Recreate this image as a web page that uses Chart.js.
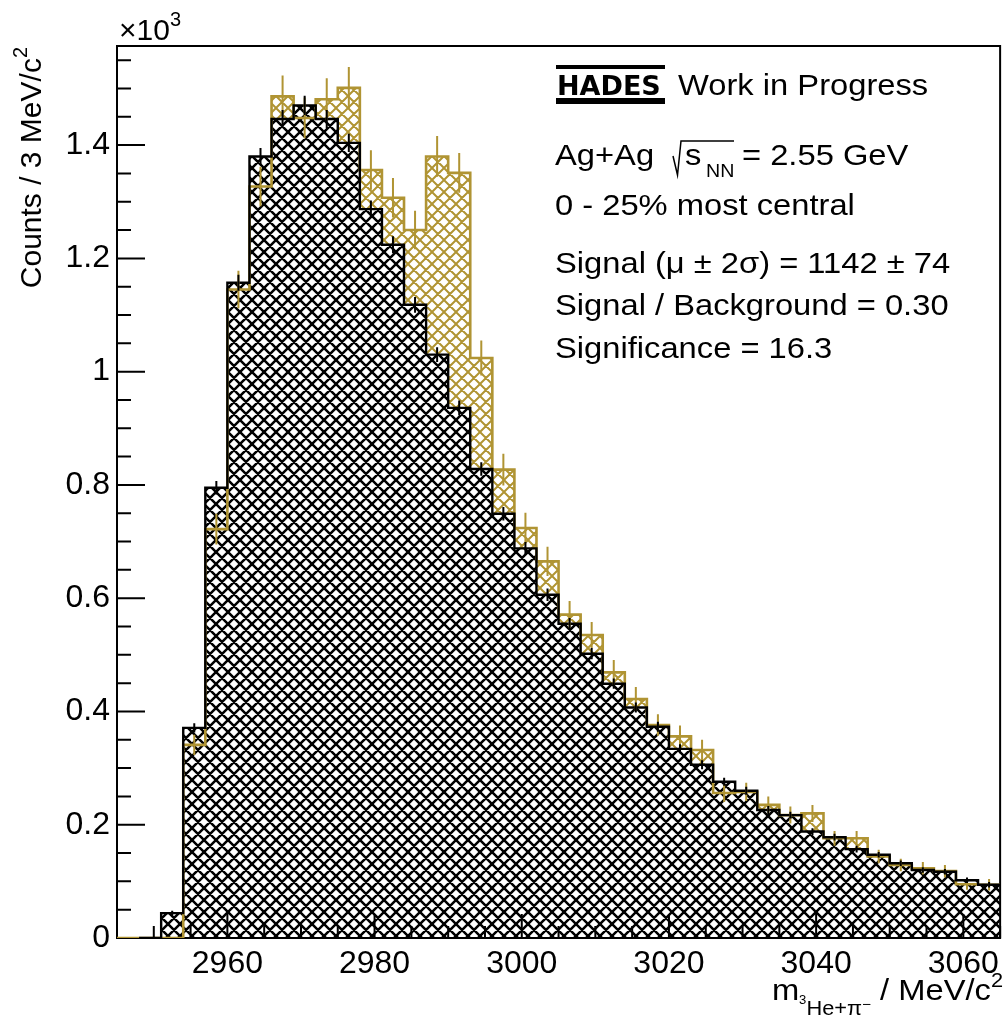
<!DOCTYPE html>
<html>
<head>
<meta charset="utf-8">
<script src="https://cdn.jsdelivr.net/npm/chart.js@4.4.1/dist/chart.umd.min.js"></script>
<style>
  html, body { margin: 0; padding: 0; background: #fff; }
</style>
</head>
<body>
<canvas id="grafico" width="1006" height="1018"></canvas>
<script>
// bordes de los bins en MeV/c^2 (3 MeV cada uno)
const binEdges = [2945, 2948, 2951, 2954, 2957, 2960, 2963, 2966, 2969, 2972,
  2975, 2978, 2981, 2984, 2987, 2990, 2993, 2996, 2999, 3002,
  3005, 3008, 3011, 3014, 3017, 3020, 3023, 3026, 3029, 3032,
  3035, 3038, 3041, 3044, 3047, 3050, 3053, 3056, 3059, 3062, 3065];

// mismo evento (senal + fondo), en unidades de 10^3
const sameEvent = [0, 0, 0, 0.341, 0.722, 1.145, 1.327, 1.486, 1.448, 1.481,
  1.501, 1.356, 1.307, 1.250, 1.380, 1.351, 1.024, 0.827, 0.724, 0.665,
  0.571, 0.535, 0.469, 0.422, 0.376, 0.356, 0.332, 0.256, 0.258, 0.235,
  0.217, 0.220, 0.176, 0.176, 0.144, 0.129, 0.123, 0.118, 0.095, 0.094];
const sameEventErr = [0, 0, 0, 0.018, 0.027, 0.033, 0.035, 0.037, 0.036, 0.037,
  0.037, 0.035, 0.035, 0.034, 0.036, 0.035, 0.031, 0.028, 0.027, 0.026,
  0.024, 0.023, 0.022, 0.021, 0.019, 0.019, 0.018, 0.016, 0.016, 0.015,
  0.015, 0.015, 0.013, 0.013, 0.012, 0.011, 0.011, 0.011, 0.010, 0.010];

// fondo (evento mezclado), en unidades de 10^3
const mixedEvent = [null, 0, 0.044, 0.371, 0.795, 1.157, 1.380, 1.446, 1.470, 1.446,
  1.404, 1.287, 1.224, 1.118, 1.030, 0.936, 0.828, 0.749, 0.688, 0.606,
  0.555, 0.502, 0.449, 0.407, 0.373, 0.334, 0.306, 0.276, 0.260, 0.226,
  0.217, 0.188, 0.178, 0.157, 0.147, 0.132, 0.120, 0.117, 0.102, 0.094];
const mixedEventErr = [0, 0, 0.004, 0.008, 0.012, 0.014, 0.015, 0.016, 0.017, 0.016,
  0.016, 0.015, 0.015, 0.014, 0.013, 0.013, 0.012, 0.012, 0.011, 0.011,
  0.010, 0.010, 0.009, 0.009, 0.009, 0.008, 0.008, 0.007, 0.007, 0.007,
  0.006, 0.006, 0.006, 0.006, 0.005, 0.005, 0.005, 0.005, 0.005, 0.005];

const xTicks = [2960, 2980, 3000, 3020, 3040, 3060];
const yTicks = [0, 0.2, 0.4, 0.6, 0.8, 1, 1.2, 1.4];

const GOLD = "#b09433";
const FONT = '"Liberation Sans", Arial, sans-serif';
const SX = 1.09;

const canvas = document.getElementById("grafico");
const ctx0 = canvas.getContext("2d");

// patron de rayado cruzado
function hatch(color, lw, bg) {
  const s = 12;
  const c = document.createElement("canvas");
  c.width = s; c.height = s;
  const g = c.getContext("2d");
  if (bg) { g.fillStyle = bg; g.fillRect(0, 0, s, s); }
  g.strokeStyle = color;
  g.lineWidth = lw;
  g.beginPath();
  for (const o of [-s, 0, s]) {
    g.moveTo(o, 0); g.lineTo(o + s, s);
    g.moveTo(o, s); g.lineTo(o + s, 0);
  }
  g.stroke();
  return ctx0.createPattern(c, "repeat");
}

// puntos del histograma (borde izquierdo + ultimo borde derecho)
function histPoints(vals) {
  const p = [];
  vals.forEach((v, i) => { if (v !== null) p.push({ x: binEdges[i], y: v }); });
  p.push({ x: binEdges[binEdges.length - 1], y: vals[vals.length - 1] });
  return p;
}

function runsWidth(ctx, runs) {
  let w = 0;
  for (const r of runs) { ctx.font = r[1] + "px " + FONT; w += ctx.measureText(r[0]).width; }
  return w;
}

function texto(ctx, x, y, runs, opts = {}) {
  ctx.save();
  ctx.translate(x, y);
  if (opts.rot) ctx.rotate(opts.rot);
  ctx.scale(opts.sx || SX, 1);
  ctx.fillStyle = "#000";
  ctx.textAlign = "left";
  ctx.textBaseline = "alphabetic";
  let cx = opts.right ? -runsWidth(ctx, runs) : 0;
  for (const r of runs) {
    ctx.font = r[1] + "px " + FONT;
    ctx.fillText(r[0], cx, r[2] || 0);
    cx += ctx.measureText(r[0]).width;
  }
  ctx.restore();
}

const errorBars = {
  id: "errorBars",
  afterDatasetsDraw(chart) {
    const { ctx, scales: { x, y } } = chart;
    const draw = (vals, errs, color) => {
      ctx.save();
      ctx.strokeStyle = color;
      ctx.lineWidth = 2;
      ctx.beginPath();
      vals.forEach((v, i) => {
        if (v === null || !errs[i]) return;
        const px = x.getPixelForValue((binEdges[i] + binEdges[i + 1]) / 2);
        ctx.moveTo(px, y.getPixelForValue(v - errs[i]));
        ctx.lineTo(px, y.getPixelForValue(v + errs[i]));
      });
      ctx.stroke();
      ctx.restore();
    };
    draw(sameEvent, sameEventErr, GOLD);
    draw(mixedEvent, mixedEventErr, "#000");
  }
};

const marco = {
  id: "marco",
  // el marco va debajo de las lineas pero encima del rayado
  beforeDatasetDraw(chart, args) {
    if (args.index !== 1) return;
    const { ctx, chartArea: a } = chart;
    ctx.save();
    ctx.strokeStyle = "#000";
    ctx.lineWidth = 2;
    ctx.strokeRect(a.left, a.top, a.right - a.left, a.bottom - a.top);
    ctx.restore();
  },
  afterDraw(chart) {
    const { ctx, chartArea: a, scales: { x, y } } = chart;
    ctx.save();
    ctx.strokeStyle = "#000";
    ctx.lineWidth = 2;
    ctx.beginPath();
    // ticks eje y (mayores y menores)
    for (let k = 1; k * 0.05 <= y.max + 1e-9; k++) {
      const py = y.getPixelForValue(k * 0.05);
      ctx.moveTo(a.left, py);
      ctx.lineTo(a.left + (k % 4 === 0 ? 28 : 14), py);
    }
    // ticks eje x
    for (let v = 2950; v <= x.max; v += 5) {
      const px = x.getPixelForValue(v);
      ctx.moveTo(px, a.bottom);
      ctx.lineTo(px, a.bottom - (xTicks.includes(v) ? 24 : 12));
    }
    ctx.stroke();
    ctx.restore();

    // textos
    texto(ctx, 119, 40, [["\u00d710", 30, 0], ["3", 20, -14]], { sx: 1 });
    texto(ctx, 41, 47, [["Counts / 3 MeV/c", 30, 0], ["2", 20, -14]], { rot: -Math.PI / 2, sx: 1, right: true });
    texto(ctx, 1003, 1000, [["m", 30, 0], ["3", 12, 4], ["He+\u03c0", 20, 15], ["\u2212", 14, 9],
      [" / MeV/c", 30, 0], ["2", 20, -13]], { right: true });

    // logo HADES
    ctx.save();
    ctx.fillStyle = "#000";
    ctx.fillRect(556, 65, 109, 4);
    ctx.fillRect(556, 98, 109, 6);
    ctx.font = 'bold 27px "DejaVu Sans", sans-serif';
    ctx.textBaseline = "alphabetic";
    ctx.fillText("HADES", 557, 95, 107);
    ctx.restore();
    texto(ctx, 678, 95, [["Work in Progress", 30, 0]]);

    texto(ctx, 555, 165, [["Ag+Ag", 30, 0]]);
    ctx.save();
    ctx.strokeStyle = "#000";
    ctx.lineWidth = 1.5;
    ctx.beginPath();
    ctx.moveTo(673, 156);
    ctx.lineTo(677.5, 175);
    ctx.lineTo(681, 141);
    ctx.lineTo(734, 141);
    ctx.stroke();
    ctx.restore();
    texto(ctx, 685, 165, [["s", 30, 0]]);
    texto(ctx, 706, 177, [["NN", 18, 0]]);
    texto(ctx, 742, 165, [["= 2.55 GeV", 30, 0]]);
    texto(ctx, 555, 215, [["0 - 25% most central", 30, 0]]);
    texto(ctx, 555, 273, [["Signal (\u03bc \u00b1 2\u03c3) = 1142 \u00b1 74", 30, 0]]);
    texto(ctx, 555, 315, [["Signal / Background = 0.30", 30, 0]]);
    texto(ctx, 555, 358, [["Significance = 16.3", 30, 0]]);
  }
};

const patGold = hatch(GOLD, 2, null);
const patBlack = hatch("#000", 2.5, "#fff");

new Chart(canvas, {
  type: "line",
  data: {
    datasets: [
      { data: histPoints(mixedEvent), stepped: "before", borderColor: "#000", borderWidth: 2.4,
        fill: false, pointRadius: 0, order: 1 },
      { data: histPoints(sameEvent), stepped: "before", borderColor: GOLD, borderWidth: 2.6,
        fill: false, pointRadius: 0, order: 2 },
      { data: histPoints(mixedEvent), stepped: "before", borderWidth: 0, borderColor: "rgba(0,0,0,0)",
        backgroundColor: patBlack, fill: "origin", pointRadius: 0, order: 3 },
      { data: histPoints(sameEvent), stepped: "before", borderWidth: 0, borderColor: "rgba(0,0,0,0)",
        backgroundColor: patGold, fill: "origin", pointRadius: 0, order: 4 }
    ]
  },
  options: {
    responsive: false,
    animation: false,
    devicePixelRatio: 1,
    layout: { padding: { top: 46, right: 2, left: 0, bottom: 0 } },
    plugins: { legend: { display: false }, tooltip: { enabled: false } },
    scales: {
      x: {
        type: "linear",
        min: 2945,
        max: 3065,
        afterBuildTicks: (s) => { s.ticks = xTicks.map((v) => ({ value: v })); },
        afterFit: (s) => { s.height = 80; },
        grid: { display: false, drawTicks: false },
        border: { display: false },
        ticks: { color: "#000", font: { family: FONT, size: 32 }, padding: 7,
          maxRotation: 0, autoSkip: false, callback: (v) => String(v) }
      },
      y: {
        min: 0,
        max: 1.575,
        afterBuildTicks: (s) => { s.ticks = yTicks.map((v) => ({ value: v })); },
        afterFit: (s) => { s.width = 117; },
        grid: { display: false, drawTicks: false },
        border: { display: false },
        ticks: { color: "#000", font: { family: FONT, size: 32 }, padding: 7,
          autoSkip: false, callback: (v) => String(Math.round(v * 10) / 10) }
      }
    }
  },
  plugins: [errorBars, marco]
});
</script>
</body>
</html>
